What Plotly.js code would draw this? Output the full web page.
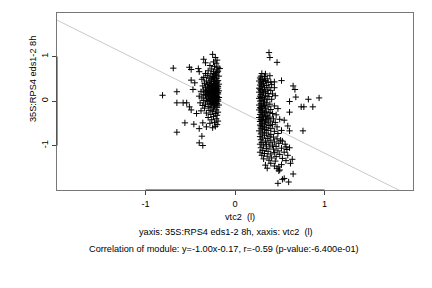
<!DOCTYPE html>
<html>
<head>
<meta charset="utf-8">
<script src="https://cdn.plot.ly/plotly-3.0.1.min.js"></script>
<style>html,body{margin:0;padding:0;background:#fff;}#chart{width:432px;height:288px;}</style>
</head>
<body>
<div id="chart"></div>
<script>
// Left cluster (vtc2 around -0.25)
const leftX = [
 -0.81,-0.69,-0.65,-0.65,-0.65,-0.56,-0.46,-0.40,-0.37,-0.40,-0.36,-0.36,-0.58,-0.54,-0.51,-0.49,-0.41,-0.40,-0.33,-0.25,-0.35,-0.49,-0.45,-0.47,-0.51,-0.49,-0.43,-0.32,
 -0.22,-0.20,-0.24,-0.21,
 -0.28,-0.23,-0.19,-0.26,-0.21,-0.30,-0.17,-0.24,-0.33,
 -0.20,-0.27,-0.22,-0.31,-0.18,-0.25,-0.35,-0.29,-0.21,-0.23,-0.37,
 -0.27,-0.19,-0.32,-0.24,-0.29,-0.21,-0.34,-0.26,-0.18,-0.31,-0.23,-0.28,-0.20,-0.36,-0.25,
 -0.30,-0.22,-0.33,-0.27,-0.19,-0.24,-0.29,-0.21,-0.35,-0.26,-0.31,-0.23,-0.18,-0.28,-0.38,-0.25,-0.20,-0.33,
 -0.29,-0.22,-0.26,-0.31,-0.19,-0.35,-0.24,-0.28,-0.21,-0.33,-0.40,-0.26,-0.30,-0.23,-0.18,-0.37,-0.27,-0.20,-0.32,
 -0.25,-0.29,-0.22,-0.35,-0.19,-0.27,-0.31,-0.24,-0.39,-0.21,-0.28,-0.33,-0.26,-0.18,-0.36,
 -0.23,-0.30,-0.20,-0.27,-0.34,-0.24,-0.21,-0.29,-0.38,-0.25,-0.19,-0.32,-0.22,-0.27,
 -0.20,-0.24,-0.30,-0.21,-0.26,-0.19,-0.23,-0.28,-0.20,-0.22,-0.25,
 -0.20,-0.22,-0.19,-0.21,-0.20,-0.22,-0.19,-0.21,-0.20,-0.22,-0.19,-0.21,-0.20,-0.22,-0.24,-0.26,-0.24,-0.27,-0.25,-0.23,-0.25,-0.28,-0.30,-0.32,-0.28,-0.26,-0.23,-0.21,-0.24,-0.19
];
const leftY = [
 0.13,0.74,0.21,-0.04,-0.70,-0.49,-0.52,-0.62,-0.79,-0.94,-1.00,-0.49,-0.04,-0.04,0.76,0.71,0.73,0.66,0.86,1.05,0.94,0.47,0.41,0.26,-0.13,-0.20,-0.28,-0.58,
 0.98,0.92,0.88,0.85,
 0.80,0.78,0.76,0.72,0.70,0.68,0.73,0.66,0.62,
 0.64,0.61,0.59,0.57,0.56,0.55,0.53,0.52,0.51,0.48,0.49,
 0.47,0.46,0.45,0.44,0.42,0.41,0.40,0.39,0.38,0.37,0.36,0.35,0.34,0.34,0.33,
 0.32,0.31,0.30,0.29,0.29,0.28,0.27,0.26,0.25,0.25,0.24,0.23,0.23,0.22,0.21,0.21,0.20,0.20,
 0.19,0.18,0.17,0.16,0.16,0.15,0.14,0.13,0.12,0.12,0.11,0.10,0.09,0.08,0.08,0.07,0.06,0.05,0.05,
 0.04,0.03,0.02,0.01,0.00,-0.01,-0.02,-0.03,-0.04,-0.05,-0.06,-0.07,-0.08,-0.09,-0.10,
 -0.11,-0.12,-0.14,-0.15,-0.16,-0.18,-0.20,-0.21,-0.22,-0.24,-0.25,-0.27,-0.28,-0.30,
 -0.32,-0.35,-0.37,-0.40,-0.42,-0.45,-0.48,-0.50,-0.53,-0.57,-0.60,
 0.43,0.39,0.33,0.30,0.25,0.21,0.19,0.15,0.10,0.06,0.03,-0.01,-0.06,-0.09,0.40,0.31,0.24,0.19,0.09,0.00,-0.05,0.01,0.14,0.22,0.38,0.50,0.53,0.58,0.62,0.67
];
// Right cluster (vtc2 around 0.35)
const rightX = [
 0.38,0.39,0.47,0.52,0.65,0.67,0.68,0.61,0.82,0.94,0.74,0.77,0.87,0.61,0.55,0.59,0.61,0.76,0.65,0.60,0.48,0.53,0.55,0.49,0.49,0.64,0.62,0.36,0.34,0.57,0.61,0.51,0.29,0.34,0.40,0.44,
 0.30,0.28,0.33,0.31,0.36,0.39,0.27,0.34,
 0.29,0.32,0.37,0.28,0.35,0.41,0.30,0.33,0.38,0.27,0.44,0.31,0.36,0.29,0.40,0.34,0.27,
 0.32,0.37,0.29,0.42,0.34,0.28,0.31,0.38,0.45,0.27,0.33,0.36,0.30,0.41,0.28,
 0.32,0.35,0.29,0.39,0.27,0.33,0.30,0.37,0.44,0.28,0.34,0.31,0.48,0.40,0.27,
 0.30,0.35,0.29,0.33,0.38,0.42,0.28,0.31,0.36,0.46,0.30,0.34,0.39,0.27,0.32,0.37,0.43,0.29,0.35,0.50,0.31,0.40,0.28,0.34,0.37,0.45,0.30,
 0.33,0.28,0.38,0.42,0.31,0.35,0.47,0.29,0.40,0.33,0.37,0.27,0.44,0.31,0.52,0.35,0.29,0.40,0.48,0.33,0.38,0.28,
 0.43,0.31,0.36,0.47,0.29,0.40,0.34,0.53,0.44,0.30,0.38,0.49,0.28,0.35,0.42,0.56,0.32,0.46,0.39,0.29,0.52,0.35,0.43,0.58,
 0.31,0.48,0.37,0.28,0.44,0.55,0.33,0.40,0.50,0.30,0.36,0.59,0.46,0.41,0.32,0.53,0.38,0.45,0.57,
 0.40,0.52,0.44,0.47,0.50,
 0.29,0.32,0.30,0.28,0.31,0.29,0.32,0.29,0.31,0.30,0.29,0.31
];
const rightY = [
 1.09,0.98,0.87,0.46,0.34,0.26,0.09,-0.01,0.04,0.07,-0.13,-0.13,-0.13,-0.25,-0.43,-0.56,-0.67,-0.67,-1.64,-1.82,-1.85,-1.76,-1.74,-1.57,-1.48,-1.31,-1.40,-1.51,-1.44,-1.03,-1.05,-0.88,0.56,0.61,0.43,0.43,
 0.62,0.52,0.55,0.48,0.50,0.57,0.45,0.46,
 0.41,0.39,0.42,0.36,0.35,0.37,0.33,0.30,0.31,0.29,0.30,0.26,0.25,0.23,0.24,0.21,0.20,
 0.18,0.17,0.15,0.16,0.13,0.11,0.09,0.10,0.12,0.06,0.05,0.03,0.01,0.04,0.00,
 -0.02,-0.04,-0.06,-0.07,-0.09,-0.10,-0.12,-0.13,-0.11,-0.15,-0.16,-0.18,-0.17,-0.19,-0.20,
 -0.22,-0.23,-0.25,-0.27,-0.26,-0.28,-0.30,-0.31,-0.32,-0.31,-0.34,-0.35,-0.36,-0.37,-0.38,-0.39,-0.40,-0.41,-0.42,-0.41,-0.44,-0.45,-0.46,-0.47,-0.49,-0.48,-0.50,
 -0.52,-0.54,-0.55,-0.53,-0.57,-0.59,-0.58,-0.61,-0.62,-0.64,-0.66,-0.67,-0.68,-0.70,-0.66,-0.72,-0.74,-0.75,-0.73,-0.77,-0.79,-0.80,
 -0.81,-0.83,-0.84,-0.85,-0.87,-0.88,-0.90,-0.90,-0.92,-0.93,-0.94,-0.95,-0.97,-0.98,-0.99,-0.97,-1.01,-1.02,-1.03,-1.05,-1.06,-1.07,-1.08,-1.09,
 -1.11,-1.12,-1.13,-1.15,-1.16,-1.15,-1.18,-1.19,-1.20,-1.22,-1.24,-1.22,-1.25,-1.28,-1.30,-1.29,-1.33,-1.35,-1.34,
 -1.40,-1.43,-1.46,-1.52,-1.55,
 0.49,0.44,0.38,0.27,0.20,0.08,-0.07,-0.16,-0.26,-0.42,-0.56,-0.63
];
// Fitted line y = slope*x + intercept
const slope = -1.00;
const intercept = -0.17;
const fitX = [-2.5, 2.5];
const fitY = fitX.map(v => slope * v + intercept);

const xTicks = [-1, 0, 1];
const yTicks = [-1, 0, 1];
const xRange = [-1.99, 1.99];
const yRange = [-2.0, 1.98];

const font = {family: 'Liberation Sans, Arial, sans-serif', size: 9.2, color: '#000'};
const markerStyle = {symbol: 'cross-thin', size: 4.5, color: '#000', line: {color: '#000', width: 1}};

const data = [
  {x: fitX, y: fitY, mode: 'lines', line: {color: '#c8c8c8', width: 1}, hoverinfo: 'skip', showlegend: false},
  {x: leftX, y: leftY, mode: 'markers', marker: markerStyle, showlegend: false},
  {x: rightX, y: rightY, mode: 'markers', marker: markerStyle, showlegend: false}
];

const layout = {
  width: 432, height: 288,
  margin: {l: 57, r: 19, t: 13, b: 98},
  paper_bgcolor: '#fff', plot_bgcolor: '#fff',
  font: font,
  showlegend: false,
  xaxis: {range: xRange, tickvals: xTicks, ticktext: xTicks.map(String), ticks: 'outside', ticklen: 4, tickcolor: '#444',
          ticklabelstandoff: 1,
          showgrid: false, zeroline: false, showline: true, mirror: true, linecolor: '#777', linewidth: 1, tickfont: font},
  yaxis: {range: yRange, tickvals: yTicks, ticktext: yTicks.map(String), ticks: 'outside', ticklen: 4, tickcolor: '#444', tickangle: -90,
          showgrid: false, zeroline: false, showline: true, mirror: true, linecolor: '#777', linewidth: 1, tickfont: font},
  shapes: [
    {type: 'line', xref: 'x', yref: 'paper', x0: -1, x1: 1, y0: 0, y1: 0, line: {color: '#333', width: 1}},
    {type: 'line', xref: 'paper', yref: 'y', x0: 0, x1: 0, y0: -1, y1: 1, line: {color: '#333', width: 1}}
  ],
  annotations: [
    {text: '35S:RPS4 eds1-2 8h', xref: 'paper', yref: 'paper', x: -0.0674, y: 0.627, textangle: -90, showarrow: false, font: font, xanchor: 'center', yanchor: 'middle'},
    {text: 'vtc2  (l)', xref: 'paper', yref: 'paper', x: 0.514, y: -0.150, showarrow: false, font: font, xanchor: 'center', yanchor: 'middle'},
    {text: 'yaxis: 35S:RPS4 eds1-2 8h, xaxis: vtc2  (l)', xref: 'paper', yref: 'paper', x: 0.475, y: -0.240, showarrow: false, font: font, xanchor: 'center', yanchor: 'middle'},
    {text: 'Correlation of module: y=-1.00x-0.17, r=-0.59 (p-value:-6.400e-01)', xref: 'paper', yref: 'paper', x: 0.469, y: -0.335, showarrow: false, font: font, xanchor: 'center', yanchor: 'middle'}
  ]
};

Plotly.newPlot('chart', data, layout, {displayModeBar: false, staticPlot: true});
</script>
</body>
</html>
